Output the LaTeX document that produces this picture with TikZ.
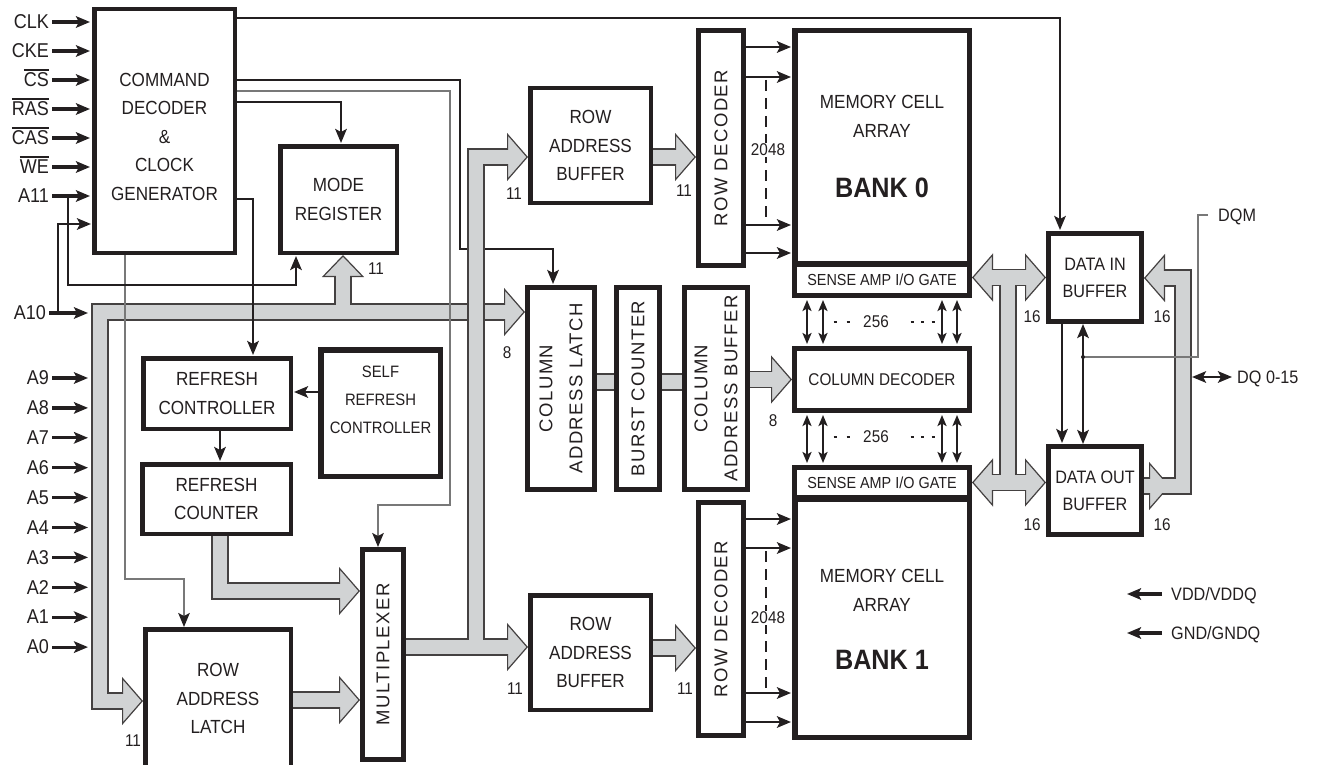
\documentclass[tikz,border=0pt]{standalone}
\usepackage{fontspec}
\setmainfont{Liberation Sans}[FakeStretch=0.9]
\newfontfamily\rotfont{Liberation Sans}[LetterSpace=8]
\usetikzlibrary{arrows.meta}

\definecolor{ink}{RGB}{35,31,32}
\definecolor{busgray}{RGB}{209,211,212}
\definecolor{wiregray}{RGB}{120,120,120}

% signal name with a bar over it
\newcommand{\ovl}[1]{\vbox{\hrule height 2.4pt\kern 1.6pt\hbox{#1}}}

\tikzset{
  sigtip/.tip={Stealth[length=14pt, width=11.5pt, inset=3pt]},
  smalltip/.tip={Stealth[length=11pt, width=9pt, inset=2.5pt]},
  bushead/.tip={Triangle[width=48pt, length=21pt, fill=busgray, line width=1.2pt]},
  modehead/.tip={Triangle[width=42pt, length=22pt, fill=busgray, line width=1.2pt]},
  box/.style={draw=ink, line width=4.5pt, fill=white, inner sep=0pt, align=center,
    text=ink, font=\fontsize{19}{28.5}\selectfont},
  heavybox/.style={box, line width=5.5pt},
  boxtext/.style={align=center, text=ink, inner sep=0pt, font=\fontsize{19}{28.5}\selectfont},
  rottext/.style={rotate=90, align=center, text=ink, inner sep=0pt,
    font=\rotfont\fontsize{18.5}{30}\selectfont},
  signame/.style={text=ink, inner sep=0pt, text height=13.5pt, text depth=0pt,
    font=\fontsize{20}{24}\selectfont},
  num/.style={text=ink, inner sep=0pt, font=\fontsize{17}{19}\selectfont},
  wire/.style={draw=ink, line width=2.5pt},
  arr/.style={wire, -sigtip, shorten >=1pt},
  darr/.style={wire, sigtip-sigtip},
  sadarr/.style={draw=ink, line width=2.3pt, smalltip-smalltip, shorten <=2pt, shorten >=2pt},
  inarr/.style={draw=ink, line width=3.2pt, -sigtip, shorten <=3pt, shorten >=2pt},
  grayline/.style={draw=wiregray, line width=1.8pt},
  grayarr/.style={grayline, -{Stealth[length=14pt, width=11.5pt, inset=3pt, color=ink]}},
  busedge/.style={draw=ink!85, line width=17.5pt},
  busfill/.style={draw=busgray, line width=14.6pt},
}

\begin{document}
\begin{tikzpicture}[x=1pt, y=-1pt]
\useasboundingbox (0,0) rectangle (1319,765);

% control blocks
\node[box, minimum width=140.5pt, minimum height=243.5pt] (cmd) at (164.5,131) {};
\node[boxtext] at (164.5,136.5) {COMMAND\\DECODER\\\&\\CLOCK\\GENERATOR};
\node[box, minimum width=116.5pt, minimum height=106.5pt] (modereg) at (338.5,199.5) {MODE\\REGISTER};
\node[box, minimum width=147.5pt, minimum height=70.5pt] (refctrl) at (217,393.5) {REFRESH\\CONTROLLER};
\node[heavybox, minimum width=119.5pt, minimum height=126.5pt] (selfref) at (380.5,413) {};
\node[boxtext, font=\fontsize{16.5}{28}\selectfont] at (380.5,400) {SELF\\REFRESH\\CONTROLLER};
\node[box, minimum width=148.5pt, minimum height=69.5pt] (refcnt) at (216.5,499) {REFRESH\\COUNTER};
\node[box, minimum width=145.5pt, minimum height=138.5pt] (ral) at (218,698.5) {ROW\\ADDRESS\\LATCH};
\node[box, line width=5pt, minimum width=41pt, minimum height=210pt] (mux) at (383,654.5) {};
\node[rottext] at (mux) {MULTIPLEXER};

% column address path
\node[box, line width=5pt, minimum width=67pt, minimum height=202pt] (cal) at (561,388.5) {};
\node[rottext] at (cal) {COLUMN\\ADDRESS LATCH};
\node[box, line width=5pt, minimum width=43pt, minimum height=202pt] (burst) at (638,388.5) {};
\node[rottext] at (burst) {BURST COUNTER};
\node[box, line width=5pt, minimum width=63pt, minimum height=202pt] (cab) at (716,388.5) {};
\node[rottext] at (cab) {COLUMN\\ADDRESS BUFFER};

% row address path
\node[box, minimum width=120.5pt, minimum height=114.5pt] (rab0) at (590.5,145.5) {ROW\\ADDRESS\\BUFFER};
\node[box, minimum width=120.5pt, minimum height=114.5pt] (rab1) at (590.5,652.5) {ROW\\ADDRESS\\BUFFER};
\node[box, line width=5pt, minimum width=45pt, minimum height=235pt] (rdec0) at (721,148) {};
\node[rottext] at (rdec0) {ROW DECODER};
\node[box, line width=5pt, minimum width=45pt, minimum height=233pt] (rdec1) at (721,619) {};
\node[rottext] at (rdec1) {ROW DECODER};

% memory banks
\node[heavybox, minimum width=174.5pt, minimum height=232.5pt] (mem0) at (882,147) {};
\node[boxtext] at (882,116.5) {MEMORY CELL\\ARRAY};
\node[boxtext, font=\fontsize{28}{30}\selectfont\bfseries] at (882,188) {BANK 0};
\node[box, line width=5pt, minimum width=175pt, minimum height=31pt, font=\fontsize{16}{18}\selectfont] (sa0) at (882,280) {SENSE AMP I/O GATE};
\node[box, line width=5pt, minimum width=175pt, minimum height=62pt, font=\fontsize{17}{20}\selectfont] (coldec) at (882,379.5) {COLUMN DECODER};
\node[heavybox, minimum width=174.5pt, minimum height=238.5pt] (mem1) at (882,618) {};
\node[boxtext] at (882,590.5) {MEMORY CELL\\ARRAY};
\node[boxtext, font=\fontsize{28}{30}\selectfont\bfseries] at (882,660) {BANK 1};
\node[box, line width=5pt, minimum width=175pt, minimum height=30pt, font=\fontsize{16}{18}\selectfont] (sa1) at (882,482.5) {SENSE AMP I/O GATE};

% data buffers
\node[box, line width=5pt, minimum width=93pt, minimum height=88pt, font=\fontsize{18}{27}\selectfont] (din) at (1095,277.5) {DATA IN\\BUFFER};
\node[box, line width=5pt, minimum width=93pt, minimum height=88pt, font=\fontsize{18}{27}\selectfont] (dout) at (1095,490.5) {DATA OUT\\BUFFER};

% pins
\coordinate (busl) at (90,312);
\foreach \name/\txt/\y in {clk/CLK/22, cke/CKE/51, cs/{\ovl{CS}}/80, ras/{\ovl{RAS}}/109,
    cas/{\ovl{CAS}}/138, we/{\ovl{WE}}/167, a11/A11/196} {
  \node[signame, anchor=east] (\name) at (49,\y) {\txt};
  \draw[inarr] (\name.east) -- (cmd.west |- \name.east);
}
\node[signame, anchor=east] (a10) at (46,313) {A10};
\draw[inarr] (a10.east) -- (a10.east -| busl);
\foreach \i [count=\k from 0] in {9,...,0} {
  \node[signame, anchor=east] (a\i) at (49,378+29.9*\k) {A\i};
  \draw[inarr] (a\i.east) -- (a\i.east -| busl);
}
\node[signame, anchor=west, font=\fontsize{18}{20}\selectfont] (dqm) at (1218,215) {DQM};
\node[signame, anchor=west, font=\fontsize{18}{20}\selectfont] (dq) at (1237,377) {DQ 0-15};
\node[signame, anchor=west, font=\fontsize{18}{20}\selectfont] (vdd) at (1171,594) {VDD/VDDQ};
\node[signame, anchor=west, font=\fontsize{18}{20}\selectfont] (gnd) at (1171,633) {GND/GNDQ};
\coordinate (vddend) at (1125,594);
\coordinate (gndend) at (1125,633);

% bus widths
\node[num] at (376,269) {11};
\node[num] at (507,353) {8};
\node[num] at (133,741) {11};
\node[num] at (514,194) {11};
\node[num] at (684,191) {11};
\node[num] at (515,689) {11};
\node[num] at (685,689) {11};
\node[num] at (773,421) {8};
\node[num] at (1032,317) {16};
\node[num] at (1162,317) {16};
\node[num] at (1032,525) {16};
\node[num] at (1162,525) {16};

% buses, outline first and fill after
\draw[busedge, bushead-bushead] (cal.west |- 0,312) -- (100,312) -- (100,701) -- (ral.west |- 0,701);
\draw[busedge, -modehead] (343,312) -- (modereg.south -| 343,0);
\draw[busedge, -bushead] (refcnt.south -| 220,0) -- (220,591) -- (mux.west |- 0,591);
\draw[busedge, -bushead] (ral.east |- 0,700) -- (mux.west |- 0,700);
\draw[busedge, -bushead] (rab0.east |- 0,157) -- (rdec0.west |- 0,157);
\draw[busedge, -bushead] (rab1.east |- 0,648) -- (rdec1.west |- 0,648);
\draw[busedge, -bushead] (cab.east |- coldec.west) -- (coldec.west);
\draw[busedge] (cal.east |- 0,382) -- (burst.west |- 0,382);
\draw[busedge] (burst.east |- 0,382) -- (cab.west |- 0,382);
\draw[busedge, bushead-bushead] (sa0.east |- din.west) -- (din.west);
\draw[busedge, bushead-bushead] (sa1.east) -- (dout.west |- sa1.east);
\draw[busedge] (1008,277.5) -- (1008,482.5);
\draw[busedge, -bushead] (1160,486) -- (1183,486) -- (1183,278) -- (din.east |- 0,278);
\draw[busedge, -bushead] (dout.east |- 0,486) -- (1170,486);

\draw[busfill, shorten <=19pt, shorten >=19pt] (cal.west |- 0,312) -- (100,312) -- (100,701) -- (ral.west |- 0,701);
\draw[busfill, shorten >=20pt] (343,312) -- (modereg.south -| 343,0);
\draw[busfill, shorten >=19pt] (refcnt.south -| 220,0) -- (220,591) -- (mux.west |- 0,591);
\draw[busfill, shorten >=19pt] (ral.east |- 0,700) -- (mux.west |- 0,700);
\draw[busfill, shorten >=19pt] (rab0.east |- 0,157) -- (rdec0.west |- 0,157);
\draw[busfill, shorten >=19pt] (rab1.east |- 0,648) -- (rdec1.west |- 0,648);
\draw[busfill, shorten >=19pt] (cab.east |- coldec.west) -- (coldec.west);
\draw[busfill] (cal.east |- 0,382) -- (burst.west |- 0,382);
\draw[busfill] (burst.east |- 0,382) -- (cab.west |- 0,382);
\draw[busfill, shorten <=19pt, shorten >=19pt] (sa0.east |- din.west) -- (din.west);
\draw[busfill, shorten <=19pt, shorten >=19pt] (sa1.east) -- (dout.west |- sa1.east);
\draw[busfill] (1008,277.5) -- (1008,482.5);
\draw[busfill, shorten >=19pt] (1160,486) -- (1183,486) -- (1183,278) -- (din.east |- 0,278);
\draw[busfill, shorten >=19pt] (dout.east |- 0,486) -- (1170,486);

% control lines
\draw[arr] (cmd.east |- 0,18) -- (1060,18) -- (din.north -| 1060,0);
\draw[arr] (cmd.east |- 0,80) -- (460,80) -- (460,249) -- (553,249) -- (cal.north -| 553,0);
\draw[grayarr] (cmd.east |- 0,91) -- (450,91) -- (450,505) -- (378,505) -- (mux.north -| 378,0);
\draw[arr] (cmd.east |- 0,102) -- (341,102) -- (modereg.north -| 341,0);
\draw[arr] (cmd.east |- 0,199) -- (253,199) -- (refctrl.north -| 253,0);
\draw[grayarr] (cmd.south -| 125,0) -- (125,579) -- (184,579) -- (ral.north -| 184,0);
\draw[arr] (a11.east -| 68,0) -- (68,285) -- (296,285) -- (modereg.south -| 296,0);
\draw[arr] (a10.east -| 58,0) -- (58,224) -- (cmd.west |- 0,224);
\draw[arr] (selfref.west |- 0,392) -- (refctrl.east |- 0,392);
\draw[arr] (refctrl.south -| 220,0) -- (refcnt.north -| 220,0);

% row decoder outputs
\foreach \y in {47,77,225,253}
  \draw[arr] (rdec0.east |- 0,\y) -- (mem0.west |- 0,\y);
\foreach \y in {519,548,693,722}
  \draw[arr] (rdec1.east |- 0,\y) -- (mem1.west |- 0,\y);
\draw[ink, line width=1.5pt, dash pattern=on 11pt off 7pt] (766,80) -- (766,222);
\draw[ink, line width=1.5pt, dash pattern=on 11pt off 7pt] (766,551) -- (766,690);
\node[num, fill=white, inner sep=1pt] at (768,150) {2048};
\node[num, fill=white, inner sep=1pt] at (768,618) {2048};

% sense amps to column decoder
\foreach \x in {807,823,942,957} {
  \draw[sadarr] (sa0.south -| \x,0) -- (coldec.north -| \x,0);
  \draw[sadarr] (coldec.south -| \x,0) -- (sa1.north -| \x,0);
}
\foreach \y in {322,437} {
  \node[num] at (876,\y) {256};
  \draw[ink, line width=2.5pt, dash pattern=on 3pt off 10pt] (833.5,\y) -- (850,\y);
  \draw[ink, line width=2.5pt, dash pattern=on 3pt off 7.5pt] (910.5,\y) -- (935,\y);
}

% data path
\draw[arr] (din.south -| 1062,0) -- (dout.north -| 1062,0);
\draw[darr] (din.south -| 1083,0) -- (dout.north -| 1083,0);
\draw[grayline, shorten <=10pt] (dqm.west) -- (1198,215) -- (1198,357) -- (1083,357);
\fill[ink] (1083,357) circle (2pt);
\draw[darr, shorten >=5pt] (1192,377) -- (dq.west);
\draw[inarr, shorten <=9pt] (vdd.west) -- (vddend);
\draw[inarr, shorten <=9pt] (gnd.west) -- (gndend);

% row address bus from the multiplexer, drawn over the others
\draw[busedge, -bushead] (mux.east |- 0,647) -- (rab1.west |- 0,647);
\draw[busedge, -bushead] (476,647) -- (476,157) -- (rab0.west |- 0,157);
\draw[busfill, shorten >=19pt] (mux.east |- 0,647) -- (rab1.west |- 0,647);
\draw[busfill, shorten >=19pt] (476,647) -- (476,157) -- (rab0.west |- 0,157);
\end{tikzpicture}
\end{document}
